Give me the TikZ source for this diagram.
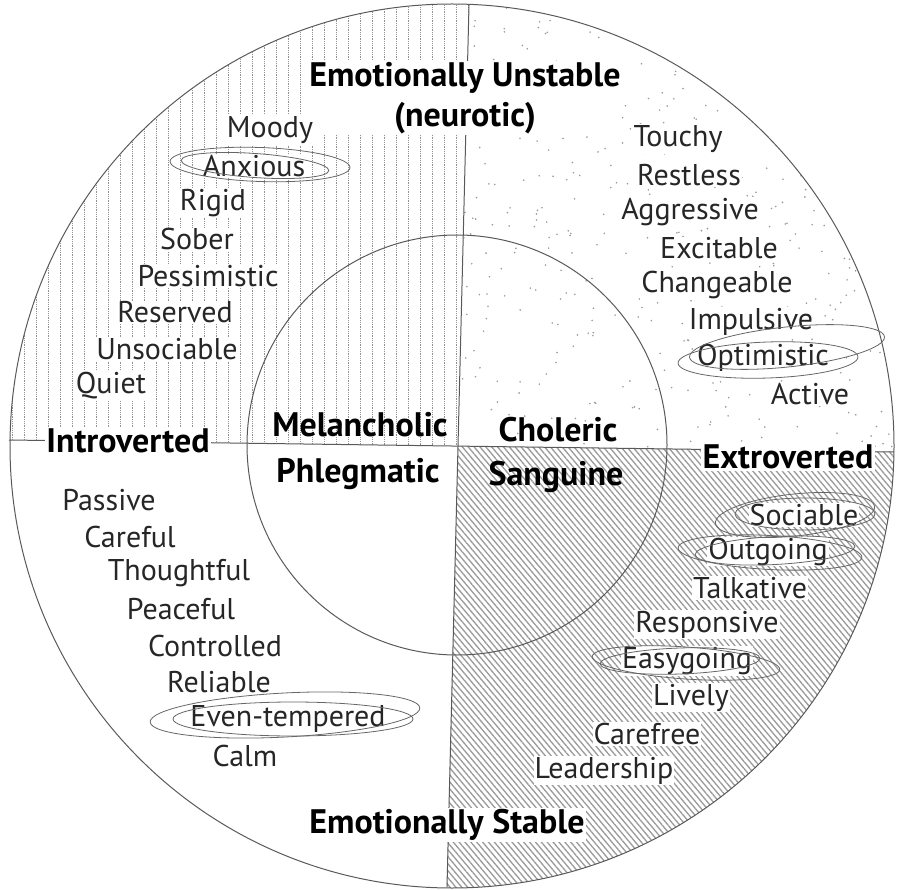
\documentclass[tikz,border=0pt]{standalone}
\usepackage{fontspec}
\setmainfont{PT Sans}
\usetikzlibrary{patterns.meta}

\begin{document}
\begin{tikzpicture}[x=1pt, y=-1pt, node distance=36.5pt,
    trait/.style={fill=white, inner sep=1pt, text=black!85, font=\fontsize{30}{33}\selectfont},
    pole/.style={fill=white, inner sep=1.5pt, text=black, align=center, font=\fontsize{34}{40}\selectfont\bfseries},
    temper/.style={pole, fill=none},
    rim/.style={draw=black!65, line width=1pt},
    scribble/.style={draw=black!60, line width=0.8pt}]
  \useasboundingbox (0,0) rectangle (899,890);
  \coordinate (mid) at (458,446);
  \coordinate (ntip) at (469,5);
  \coordinate (stip) at (447,887);
  \coordinate (wtip) at (9,440);
  \coordinate (etip) at (894,452);

  \begin{scope}
    \clip (452,446) circle (442);
    \clip (mid) -- (470,-20) -- (-20,-20) -- (-20,440) -- cycle;
    \foreach \x in {12,24,...,480}
      \draw[gray!85, densely dotted, line width=0.8pt] (\x,-20) -- (\x,460);
  \end{scope}
  \begin{scope}
    \clip (452,446) circle (442);
    \clip (mid) -- (470,-20) -- (920,-20) -- (920,452) -- cycle;
    \pgfmathsetseed{11}
    \foreach \i in {1,...,450}
      \fill[gray!80] (460+rnd*440, rnd*456) circle (0.9);
  \end{scope}
  \begin{scope}
    \clip (452,446) circle (442);
    \fill[pattern={Lines[angle=-50, distance=4.5pt, line width=1.3pt]}, pattern color=gray!80]
      (mid) -- (920,452) -- (920,910) -- (446,910) -- cycle;
  \end{scope}

  \draw[rim] (452,446) circle (442);
  \draw[rim] (457,445) circle (210);
  \draw[rim] (ntip) -- (stip);
  \draw[rim] (wtip) -- (etip);

  \node (unstable) [pole] at (465,98) {Emotionally Unstable\\(neurotic)};
  \node (stable) [pole] at (447,825) {Emotionally Stable};
  \node (intro) [pole] at (128,441) {Introverted};
  \node (extro) [pole] at (788,457) {Extroverted};
  \node (melan) [temper] at (360,425) {Melancholic};
  \node (choler) [temper] at (558,430) {Choleric};
  \node (phleg) [temper] at (358,474) {Phlegmatic};
  \node (sang) [temper] at (556,477) {Sanguine};

  \node (moody) [trait] at (270,130) {Moody};
  \node (anxious) [trait, below of=moody, xshift=-16pt] {Anxious};
  \node (rigid) [trait, below of=anxious, xshift=-41pt] {Rigid};
  \node (sober) [trait, below of=rigid, xshift=-16pt] {Sober};
  \node (pessim) [trait, below of=sober, xshift=11pt] {Pessimistic};
  \node (reserved) [trait, below of=pessim, xshift=-33pt] {Reserved};
  \node (unsoc) [trait, below of=reserved, xshift=-8pt] {Unsociable};
  \node (quiet) [trait, below of=unsoc, xshift=-56pt] {Quiet};

  \node (touchy) [trait] at (678,139) {Touchy};
  \node (restless) [trait, below of=touchy, xshift=11pt] {Restless};
  \node (aggr) [trait, below of=restless, xshift=1pt] {Aggressive};
  \node (excit) [trait, below of=aggr, xshift=29pt] {Excitable};
  \node (change) [trait, below of=excit, xshift=-2pt] {Changeable};
  \node (impuls) [trait, below of=change, xshift=34pt] {Impulsive};
  \node (optim) [trait, below of=impuls, xshift=12pt] {Optimistic};
  \node (active) [trait, below of=optim, xshift=47pt] {Active};

  \node (passive) [trait] at (109,500) {Passive};
  \node (careful) [trait, below of=passive, xshift=21pt] {Careful};
  \node (thought) [trait, below of=careful, xshift=49pt] {Thoughtful};
  \node (peace) [trait, below of=thought, xshift=2pt] {Peaceful};
  \node (control) [trait, below of=peace, xshift=34pt] {Controlled};
  \node (reliable) [trait, below of=control, xshift=4pt] {Reliable};
  \node (eventemp) [trait, below of=reliable, xshift=69pt] {Even-tempered};
  \node (calm) [trait, below of=eventemp, xshift=-43pt] {Calm};

  \node (sociable) [trait] at (804,515) {Sociable};
  \node (outgoing) [trait, below of=sociable, xshift=-36pt] {Outgoing};
  \node (talk) [trait, below of=outgoing, xshift=-18pt] {Talkative};
  \node (respons) [trait, below of=talk, xshift=-43pt] {Responsive};
  \node (easy) [trait, below of=respons, xshift=-20pt] {Easygoing};
  \node (lively) [trait, below of=easy, xshift=4pt] {Lively};
  \node (carefree) [trait, below of=lively, xshift=-44pt] {Carefree};
  \node (leader) [trait, below of=carefree, xshift=-43pt] {Leadership};

  \draw[scribble] ([shift={(6,-2)}]anxious.center) ellipse [x radius=90, y radius=17, rotate=-2];
  \draw[scribble] ([shift={(1,-1)}]anxious.center) ellipse [x radius=74, y radius=12, rotate=-4];
  \draw[scribble] ([shift={(5,2)}]optim.center) ellipse [x radius=90, y radius=18, rotate=2];
  \draw[scribble] ([shift={(24,-11)}]optim.center) ellipse [x radius=98, y radius=20, rotate=6];
  \draw[scribble] ([shift={(1,-1)}]sociable.center) ellipse [x radius=70, y radius=16];
  \draw[scribble] ([shift={(-9,0)}]sociable.center) ellipse [x radius=80, y radius=21, rotate=6];
  \draw[scribble] ([shift={(2,1)}]outgoing.center) ellipse [x radius=92, y radius=17, rotate=-3];
  \draw[scribble] ([shift={(7,-1)}]outgoing.center) ellipse [x radius=80, y radius=14, rotate=3];
  \draw[scribble] ([shift={(-1,2)}]easy.center) ellipse [x radius=94, y radius=16, rotate=-4];
  \draw[scribble] ([shift={(-7,0)}]easy.center) ellipse [x radius=80, y radius=13, rotate=2];
  \draw[scribble] ([shift={(-3,-4)}]eventemp.center) ellipse [x radius=135, y radius=22, rotate=3];
  \draw[scribble] ([shift={(5,0)}]eventemp.center) ellipse [x radius=120, y radius=17];
\end{tikzpicture}
\end{document}
